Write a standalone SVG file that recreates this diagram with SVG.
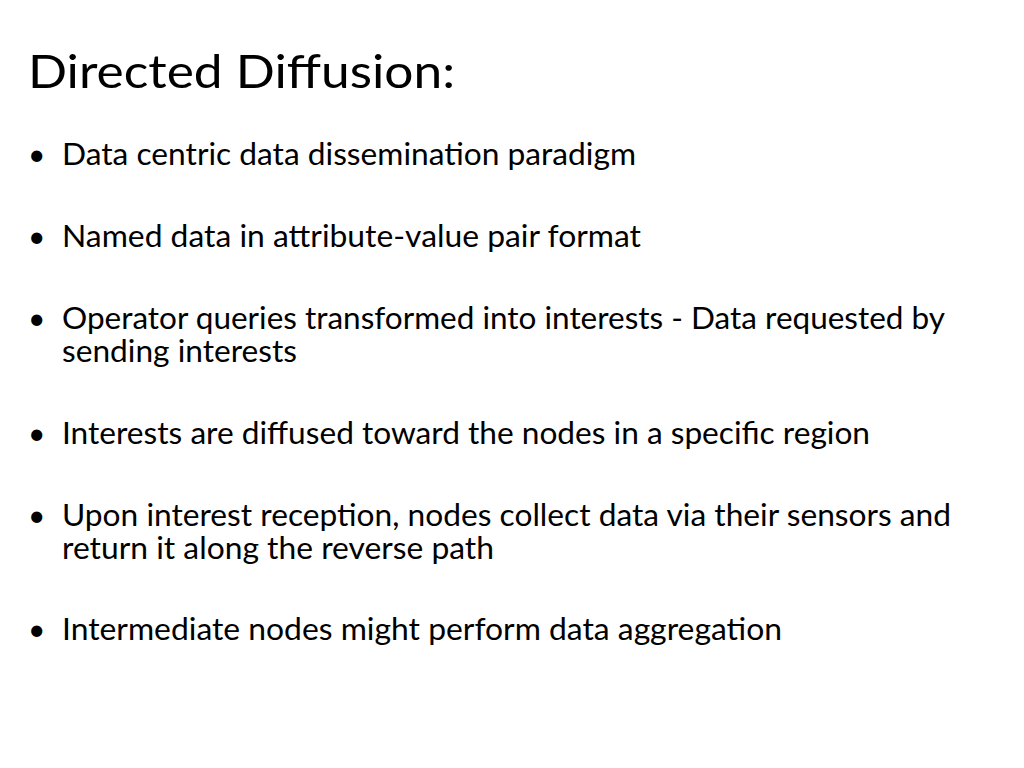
<svg xmlns="http://www.w3.org/2000/svg" width="1024" height="768" viewBox="0 0 1024 768">
<style>
text{font-family:Lato,"Open Sans","Liberation Sans",sans-serif;fill:#000}
.t{font-size:47px}
.b{font-size:30px}
</style>
<rect width="1024" height="768" fill="#fff"/>
<text class="t" x="28" y="88" textLength="427" lengthAdjust="spacingAndGlyphs">Directed Diffusion:</text>
<g id="bullets">
<text class="b" x="28" y="165">•</text><text class="b" x="62" y="165" textLength="574" lengthAdjust="spacingAndGlyphs">Data centric data dissemination paradigm</text>
<text class="b" x="28" y="247">•</text><text class="b" x="62" y="247" textLength="579" lengthAdjust="spacingAndGlyphs">Named data in attribute-value pair format</text>
<text class="b" x="28" y="329">•</text><text class="b" x="62" y="329" textLength="883" lengthAdjust="spacingAndGlyphs">Operator queries transformed into interests - Data requested by</text>
<text class="b" x="62" y="362" textLength="235" lengthAdjust="spacingAndGlyphs">sending interests</text>
<text class="b" x="28" y="444">•</text><text class="b" x="62" y="444" textLength="808" lengthAdjust="spacingAndGlyphs">Interests are diffused toward the nodes in a specific region</text>
<text class="b" x="28" y="526">•</text><text class="b" x="62" y="526" textLength="889" lengthAdjust="spacingAndGlyphs">Upon interest reception, nodes collect data via their sensors and</text>
<text class="b" x="62" y="559" textLength="432" lengthAdjust="spacingAndGlyphs">return it along the reverse path</text>
<text class="b" x="28" y="640">•</text><text class="b" x="62" y="640" textLength="720" lengthAdjust="spacingAndGlyphs">Intermediate nodes might perform data aggregation</text>
</g>
</svg>
